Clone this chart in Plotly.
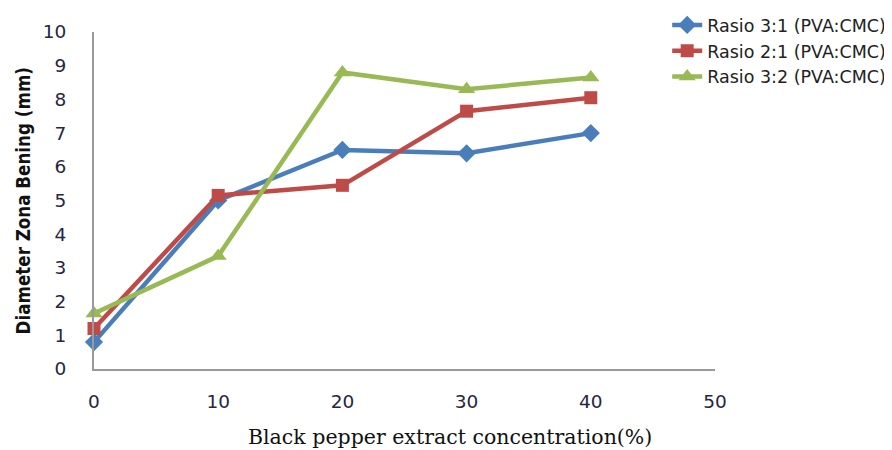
import plotly.graph_objects as go

concentration = [0, 10, 20, 30, 40]
rasio_3_1 = [0.8, 5.0, 6.5, 6.4, 7.0]
rasio_2_1 = [1.2, 5.15, 5.45, 7.65, 8.05]
rasio_3_2 = [1.65, 3.35, 8.8, 8.3, 8.65]

x_title = "Black pepper extract concentration(%)"
y_title = "<b>Diameter Zona Bening (mm)</b>"

series = [
    ("Rasio 3:1 (PVA:CMC)", rasio_3_1, "#4a7ebb", "diamond", 14),
    ("Rasio 2:1 (PVA:CMC)", rasio_2_1, "#be4b48", "square", 13),
    ("Rasio 3:2 (PVA:CMC)", rasio_3_2, "#98b954", "triangle-up", 15),
]

fig = go.Figure()
for name, vals, color, sym, size in series:
    fig.add_trace(go.Scatter(
        x=concentration, y=vals, name=name, mode="lines+markers",
        line=dict(color=color, width=4.5),
        marker=dict(symbol=sym, size=size, color=color),
        cliponaxis=False,
    ))

fig.add_annotation(text=x_title, xref="paper", yref="paper",
                   x=0.573, y=-0.202, xanchor="center", yanchor="middle",
                   showarrow=False,
                   font=dict(family="DejaVu Serif", size=20.5, color="#111"))
fig.add_annotation(text=y_title, xref="paper", yref="paper",
                   x=-0.114, y=0.498, xanchor="center", yanchor="middle",
                   textangle=-90, showarrow=False,
                   font=dict(family="Liberation Sans Narrow, DejaVu Sans Condensed", size=18.6, color="#111"))

fig.update_layout(
    width=884, height=442,
    margin=dict(l=86, r=177, t=24, b=81, autoexpand=False),
    paper_bgcolor="white", plot_bgcolor="white",
    font=dict(family="DejaVu Sans", size=18.5, color="#262640"),
    showlegend=True,
    legend=dict(x=0.923, y=1.074, xanchor="left", yanchor="top",
                font=dict(family="DejaVu Sans", size=17.5, color="#222"),
                tracegroupgap=0, bgcolor="rgba(0,0,0,0)"),
    xaxis=dict(range=[0, 50], tickvals=[0, 10, 20, 30, 40, 50],
               showgrid=False, zeroline=False, showline=True,
               linecolor="#9a9a9a", linewidth=2, ticks="",
               automargin=False, ticklabelstandoff=15),
    yaxis=dict(range=[0, 10], tickvals=list(range(0, 11)),
               showgrid=False, zeroline=False, showline=True,
               linecolor="#9a9a9a", linewidth=2, ticks="",
               automargin=False, ticklabelstandoff=22),
)

fig.write_html("out.html")
